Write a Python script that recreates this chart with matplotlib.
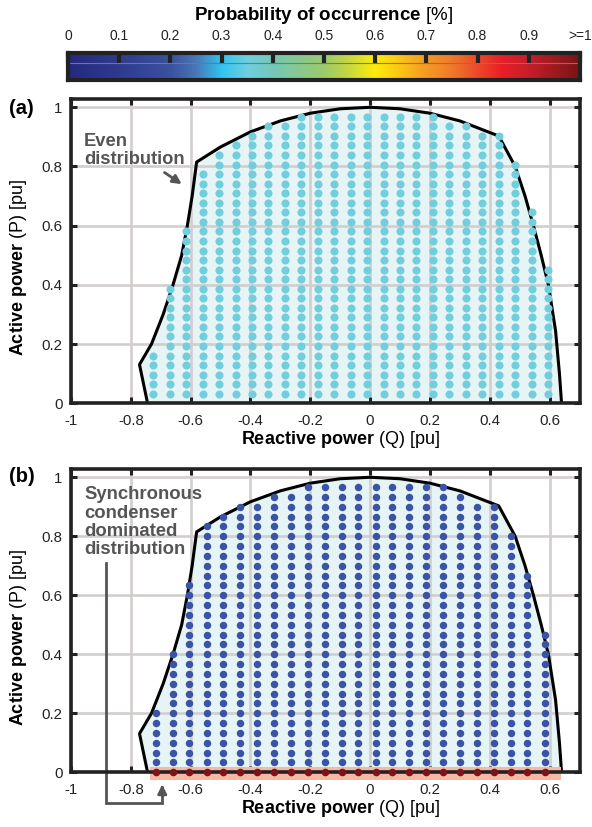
import numpy as np
import matplotlib
matplotlib.use('Agg')
import matplotlib.pyplot as plt
from matplotlib.colors import LinearSegmentedColormap
from matplotlib.patches import Rectangle

plt.rcParams['font.family'] = 'Liberation Sans'
plt.rcParams['mathtext.fontset'] = 'custom'
plt.rcParams['mathtext.rm'] = 'Liberation Sans'
plt.rcParams['mathtext.bf'] = 'Liberation Sans:bold'
plt.rcParams['mathtext.it'] = 'Liberation Sans:italic'

# capability curve (Q, P)
curve_q = [-0.744, -0.771, -0.731, -0.692, -0.659, -0.630, -0.611, -0.595, -0.580,
           -0.50, -0.40, -0.30, -0.20, -0.10, 0.0, 0.10, 0.20, 0.30, 0.43,
           0.485, 0.518, 0.546, 0.572, 0.596, 0.620, 0.633, 0.640]
curve_p = [0.0, 0.131, 0.20, 0.30, 0.40, 0.50, 0.60, 0.70, 0.815,
           0.866, 0.917, 0.954, 0.980, 0.995, 1.0, 0.995, 0.980, 0.954, 0.903,
           0.80, 0.70, 0.60, 0.50, 0.40, 0.245, 0.10, 0.0]

# panel (a): grid columns and number of dots per column
q_a = [-0.725, -0.670, -0.615, -0.560, -0.505, -0.450, -0.395, -0.340, -0.285,
       -0.230, -0.175, -0.120, -0.065, -0.010, 0.045, 0.100, 0.155, 0.210,
       0.265, 0.320, 0.375, 0.430, 0.485, 0.540, 0.595]
top_a = [5, 12, 18, 24, 26, 27, 28, 29, 29, 30, 30, 30, 30, 30, 30, 30, 30, 30,
         29, 29, 28, 28, 25, 20, 14]
step_a = 1 / 31

# panel (b)
q_b = [-0.717, -0.660, -0.604, -0.547, -0.491, -0.434, -0.378, -0.321, -0.265,
       -0.208, -0.152, -0.095, -0.039, 0.018, 0.074, 0.131, 0.187, 0.244,
       0.300, 0.357, 0.413, 0.470, 0.526, 0.583]
top_b = [6, 12, 19, 25, 26, 27, 27, 28, 28, 29, 29, 29, 29, 29, 29, 29, 29, 29,
         28, 27, 27, 24, 20, 14]
step_b = 1 / 30

xticks = [-1, -0.8, -0.6, -0.4, -0.2, 0, 0.2, 0.4, 0.6]
xticklabels = ['-1', '-0.8', '-0.6', '-0.4', '-0.2', '0', '0.2', '0.4', '0.6']
yticks = [0, 0.2, 0.4, 0.6, 0.8, 1]
yticklabels = ['0', '0.2', '0.4', '0.6', '0.8', '1']

cb_ticks = [0, 0.1, 0.2, 0.3, 0.4, 0.5, 0.6, 0.7, 0.8, 0.9, 1.0]
cb_labels = ['0', '0.1', '0.2', '0.3', '0.4', '0.5', '0.6', '0.7', '0.8', '0.9', '>=1']
cb_pos = [0.0, 0.1, 0.2, 0.25, 0.3, 0.35, 0.4, 0.45, 0.5, 0.55, 0.6, 0.65, 0.7,
          0.75, 0.8, 0.85, 0.9, 1.0]
cb_cols = ['#252a7d', '#2f3b90', '#3a52a0', '#4a78b8', '#2fc5f0', '#6fcfdf', '#74c8b8',
           '#88c890', '#9acb6c', '#c8d840', '#fcee0a', '#fbc515', '#f59a22', '#f07a28',
           '#ee4a28', '#ea1d25', '#c71f2a', '#7a1414']

col_a = '#72cedd'
col_b = '#3a53a4'
col_zero = '#7f1416'
fill_col = '#e6f4f5'
dark = '#222222'
ann = '#555555'

W, H = 592, 827
fig = plt.figure(figsize=(W / 100, H / 100), dpi=100)


def box(l, t, r, b):
    return [l / W, 1 - b / H, (r - l) / W, (b - t) / H]


def setup(ax):
    ax.set_xlim(-1, 0.7)
    ax.set_ylim(0, 1.027)
    ax.set_xticks(xticks)
    ax.set_xticklabels(xticklabels)
    ax.set_yticks(yticks)
    ax.set_yticklabels(yticklabels)
    ax.grid(True, color='#d2cece', lw=1.9)
    ax.set_axisbelow(True)
    for s in ax.spines.values():
        s.set_linewidth(2.6)
        s.set_color(dark)
    ax.tick_params(direction='in', length=4, width=2.2, color=dark, top=True, right=True,
                   labelsize=10.8, labelcolor=dark)
    ax.tick_params(axis='x', pad=8)
    ax.tick_params(axis='y', pad=6)
    ax.fill(curve_q + [curve_q[0]], curve_p + [curve_p[0]], color=fill_col, lw=0, zorder=0.1)
    ax.plot(curve_q, curve_p, color='black', lw=2.2, zorder=2)
    ax.set_ylabel(r'$\mathbf{Active\ power}$ (P) [pu]', fontsize=13)
    ax.yaxis.set_label_coords(-0.082, 0.445)
    ax.set_xlabel(r'$\mathbf{Reactive\ power}$ (Q) [pu]', fontsize=13)
    ax.xaxis.set_label_coords(0.53, -0.085)


def dots(q, top, step):
    xs, ys = [], []
    for qq, n in zip(q, top):
        for j in range(1, n + 1):
            xs.append(qq)
            ys.append(j * step)
    return xs, ys


# colorbar
cax = fig.add_axes(box(68, 53, 580, 80))
cmap = LinearSegmentedColormap.from_list('occ', list(zip(cb_pos, cb_cols)))
cax.imshow(np.linspace(0, 1, 512).reshape(1, -1), cmap=cmap, aspect='auto',
           extent=[0, 1, 0, 1])
cax.set_xlim(0, 1)
cax.set_ylim(0, 1)
cax.set_yticks([])
cax.set_xticks(cb_ticks)
cax.set_xticklabels(cb_labels)
cax.xaxis.tick_top()
cax.tick_params(axis='x', direction='in', length=7, width=3, color=dark, pad=7,
                labelsize=10, labelcolor=dark)
cax.axhline(0.62, color='#777777', lw=0.8)
for s in cax.spines.values():
    s.set_linewidth(3)
    s.set_color(dark)
fig.text(324 / W, 1 - 15 / H, r'$\mathbf{Probability\ of\ occurrence}$ [%]',
         ha='center', va='center', fontsize=13.5)

# panel (a)
ax1 = fig.add_axes(box(71, 99.3, 579.5, 403.3))
setup(ax1)
xa, ya = dots(q_a, top_a, step_a)
ax1.scatter(xa, ya, s=34, color=col_a, lw=0, zorder=3)
ax1.text(-0.956, 0.884, 'Even', color=ann, fontsize=13.2, fontweight='bold', va='center')
ax1.text(-0.956, 0.822, 'distribution', color=ann, fontsize=13.2, fontweight='bold',
         va='center')
ax1.annotate('', xy=(-0.622, 0.735), xytext=(-0.695, 0.785),
             arrowprops=dict(arrowstyle='-|>', color=ann, lw=2, mutation_scale=13))
fig.text(9 / W, 1 - 108 / H, '(a)', fontsize=14.5, fontweight='bold', va='center')

# panel (b)
ax2 = fig.add_axes(box(71, 469.3, 579.5, 772.3))
setup(ax2)
xb, yb = dots(q_b, top_b, step_b)
ax2.scatter(xb, yb, s=29, color=col_b, lw=0, zorder=3)
ax2.add_patch(Rectangle((-0.736, -0.026), 1.374, 0.045, color='#f7b7a3', lw=0,
                        clip_on=False, zorder=2))
ax2.scatter(q_b, [0] * len(q_b), s=30, color=col_zero, lw=0, zorder=3, clip_on=False)
for i, line in enumerate(['Synchronous', 'condenser', 'dominated', 'distribution']):
    ax2.text(-0.956, 0.94 - i * 0.062, line, color=ann, fontsize=13.3, fontweight='bold',
             va='center')
ax2.plot([-0.882, -0.882, -0.695, -0.695], [0.71, -0.105, -0.105, -0.06],
         color=ann, lw=2, clip_on=False, solid_joinstyle='miter')
ax2.annotate('', xy=(-0.695, -0.032), xytext=(-0.695, -0.07), annotation_clip=False,
             arrowprops=dict(arrowstyle='-|>', color=ann, lw=2, mutation_scale=13))
fig.text(9 / W, 1 - 477 / H, '(b)', fontsize=14.5, fontweight='bold', va='center')

fig.savefig('out.png', dpi=100)
